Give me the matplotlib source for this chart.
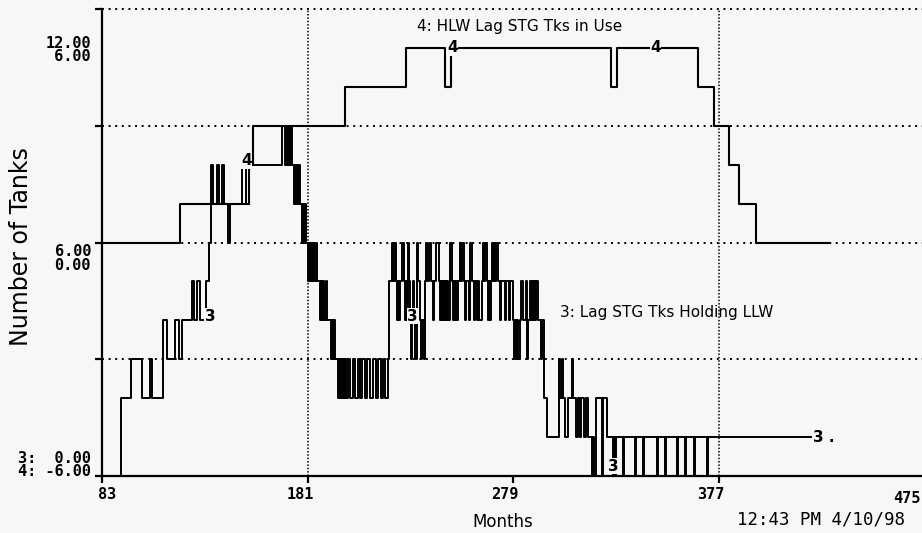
import matplotlib.pyplot as plt

# series 3: Lag STG Tks Holding LLW  (change points, value holds until next month)
s3_month = [83, 92, 97, 102, 106, 107, 112, 114, 118, 119.5, 121, 126, 127, 128.5, 129.5, 132.5, 134,
            135, 136, 138, 139, 140, 141, 143, 144, 150, 151.5, 153, 169, 170.5, 171, 171.5, 172, 172.5,
            173, 173.5, 174.5, 175, 175.5, 176, 176.5, 177, 177.5, 178.5, 179, 179.5, 180, 180.5, 181,
            181.5, 182, 182.5, 183, 183.5, 184, 185, 185.5, 187, 187.5, 188, 188.5, 189, 190, 190.5, 192,
            192.5, 193, 193.5, 194, 195.5, 196, 196.5, 197, 197.5, 198, 198.5, 199, 199.5, 200.5, 201.5,
            202.5, 203.5, 205, 206, 207, 208.5, 209.5, 211, 212, 213.5, 214.5, 216, 217, 218, 219.5,
            220, 221.5, 222, 222.5, 223, 223.5, 224, 224.5, 225, 226, 227, 227.5, 228, 228.5, 229, 229.5,
            230, 230.5, 231, 231.5, 232, 232.5, 233, 233.5, 234.5, 235, 235.5, 236.5, 237, 237.5, 238,
            239, 240, 241, 241.5, 242.5, 243.5, 244, 244.5, 245, 245.5, 246, 246.5, 247, 247.5, 248, 249,
            250, 250.5, 251, 251.5, 252, 252.5, 253, 253.5, 254, 254.5, 255.5, 256, 256.5, 258, 258.5,
            259.5, 260.5, 261, 262, 262.5, 263, 264, 264.5, 265, 265.5, 266.5, 267, 267.5, 268, 268.5,
            269, 269.5, 270, 270.5, 271, 272, 273, 273.5, 275, 275.5, 277, 277.5, 279, 279.5, 280, 280.5,
            281, 281.5, 282.5, 283, 284, 285, 285.5, 286, 287, 287.5, 288, 288.5, 289, 289.5, 290, 291,
            292.5, 293, 294, 295, 301, 301.5, 302.5, 303, 304, 305, 307, 307.5, 309, 310, 311, 311.5, 313,
            314, 315, 316.5, 317, 317.5, 318.5, 321.5, 322, 324, 326.5, 327, 327.5, 328, 331.5, 332, 337,
            337.5, 341, 341.5, 347.5, 348, 351.5, 352, 357, 357.5, 361, 361.5, 365.5, 366, 371.5, 372, 421]
s3_value = [0, 2, 3, 2, 3, 2, 4, 3, 4, 3, 4, 5, 4, 5, 4, 5, 6,
            8, 7, 8, 7, 8, 7, 6, 7, 8, 7, 8, 9, 8, 9, 8, 9, 8,
            9, 8, 7, 8, 7, 8, 7, 8, 7, 6, 7, 6, 7, 6, 5,
            6, 5, 6, 5, 6, 5, 6, 5, 4, 5, 4, 5, 4, 5, 4, 3,
            4, 3, 4, 3, 2, 3, 2, 3, 2, 3, 2, 3, 2, 3, 2,
            3, 2, 3, 2, 3, 2, 3, 2, 3, 2, 3, 2, 3, 2, 3,
            5, 6, 5, 6, 5, 4, 5, 4, 5, 6, 5, 4, 5, 4, 6, 5,
            4, 3, 4, 5, 4, 3, 6, 5, 4, 3, 4, 3, 5, 6, 5,
            6, 5, 4, 5, 6, 5, 4, 5, 4, 5, 4, 5, 4, 5, 4, 6,
            5, 4, 5, 4, 5, 4, 5, 6, 5, 6, 5, 4, 5, 4, 6,
            5, 4, 5, 4, 5, 4, 5, 6, 5, 6, 5, 4, 5, 4, 5,
            6, 5, 6, 5, 6, 5, 4, 5, 4, 5, 4, 5, 4, 3, 4, 3,
            4, 3, 4, 5, 4, 5, 3, 4, 5, 4, 5, 4, 5, 4, 5, 4,
            3, 4, 2, 1, 3, 2, 3, 2, 1, 2, 3, 2, 1, 2, 1, 2, 1,
            2, 1, 0, 1, 0, 2, 0, 2, 1, 0, 1, 0, 1, 0, 1, 0,
            1, 0, 1, 0, 1, 0, 1, 0, 1, 0, 1, 0, 1, 0, 1, 1]

# series 4: HLW Lag STG Tks in Use
s4_month = [83, 120, 153, 155, 199, 228, 246.5, 249.5, 325.5, 328.5, 367, 375, 382, 387, 395, 430]
s4_value = [0, 1, 2, 3, 4, 5, 4, 5, 4, 5, 4, 3, 2, 1, 0, 0]

x_ticks = [83, 181, 279, 377, 475]
x_grid = [181, 377]
y3_grid = [3, 6, 9]
name3 = "3: Lag STG Tks Holding LLW"
name4 = "4: HLW Lag STG Tks in Use"
stamp = "12:43 PM 4/10/98"

bg = '#f7f7f7'
mono = 'DejaVu Sans Mono'

fig = plt.figure(figsize=(9.22, 5.33), dpi=100, facecolor=bg)
ax = fig.add_axes([102 / 922, 57 / 533, 822 / 922, 467 / 533], facecolor=bg)
ax.set_xlim(83, 475)
ax.set_ylim(0, 12)

# dotted grid
for g in y3_grid:
    ax.axhline(g, color='k', lw=1.4, ls=(0, (1, 2.4)), zorder=1)
ax.axhline(12, color='k', lw=1.4, ls=(0, (1, 2.4)), zorder=1, clip_on=False)
for g in x_grid:
    ax.axvline(g, color='k', lw=1.1, ls=(0, (1, 1.2)), zorder=1)

ax.step(s3_month, s3_value, where='post', color='k', lw=1.4, zorder=3, clip_on=False)

ax2 = ax.twinx()
ax2.set_ylim(-6, 6)
ax2.step(s4_month, s4_value, where='post', color='k', lw=1.5, zorder=3, clip_on=False)
ax2.axis('off')

for s in ['top', 'right']:
    ax.spines[s].set_visible(False)
ax.spines['left'].set_linewidth(1.6)
ax.spines['bottom'].set_linewidth(1.6)
ax.set_yticks([0, 3, 6, 9, 12])
ax.set_yticklabels([])
ax.set_xticks(x_ticks)
ax.set_xticklabels([])
ax.tick_params(direction='out', length=5, width=1.6)

# x tick labels, STELLA style offsets
for t in x_ticks:
    if t == x_ticks[0]:
        dx, ha, dy = -4, 'left', -11
    elif t == x_ticks[-1]:
        dx, ha, dy = -3, 'right', -15
    else:
        dx, ha, dy = 6, 'right', -11
    ax.annotate(str(t), xy=(t, 0), xycoords=('data', 'axes fraction'), xytext=(dx, dy),
                textcoords='offset pixels', ha=ha, va='top', fontsize=11, family=mono,
                fontweight='bold', annotation_clip=False)

# stacked y scale labels for both series
ykw = dict(xycoords='axes fraction', textcoords='offset pixels', ha='right', family=mono,
           fontsize=11, fontweight='bold', linespacing=0.85, annotation_clip=False)
ax.annotate("12.00\n 6.00", xy=(0, 1), xytext=(-11, -27), va='top', **ykw)
ax.annotate("6.00\n0.00", xy=(0, 0.5), xytext=(-11, -2), va='top', **ykw)
ax.annotate("3:  0.00\n4: -6.00", xy=(0, 0), xytext=(-11, -3), va='bottom', **ykw)

# curve labels
lab = dict(fontsize=11, fontweight='bold', family='DejaVu Sans', ha='center', va='center',
           bbox=dict(fc=bg, ec='none', pad=0.3), zorder=5)
ax2.text(152, 2.1, "4", **lab)
ax2.text(250, 5.0, "4", **lab)
ax2.text(347, 5.0, "4", **lab)
ax.text(134.5, 4.1, "3", **lab)
ax.text(231, 4.1, "3", **lab)
ax.text(327, 0.25, "3", **lab)
ax.text(422, 1.0, "3 .", fontsize=11, fontweight='bold', ha='left', va='center')

ax2.text(233, 5.55, name4, fontsize=11, ha='left', va='center')
ax.text(301.5, 4.2, name3, fontsize=11, ha='left', va='center')

fig.text(21 / 922, 1 - 247 / 533, "Number of Tanks", rotation=90, ha='center', va='center',
         fontsize=17)
fig.text(503 / 922, 2 / 533, "Months", ha='center', va='bottom', fontsize=12)
fig.text(905 / 922, 1 - 520 / 533, stamp, ha='right', va='center', fontsize=12.5, family=mono)

fig.savefig('out.png', dpi=100, facecolor=bg)
